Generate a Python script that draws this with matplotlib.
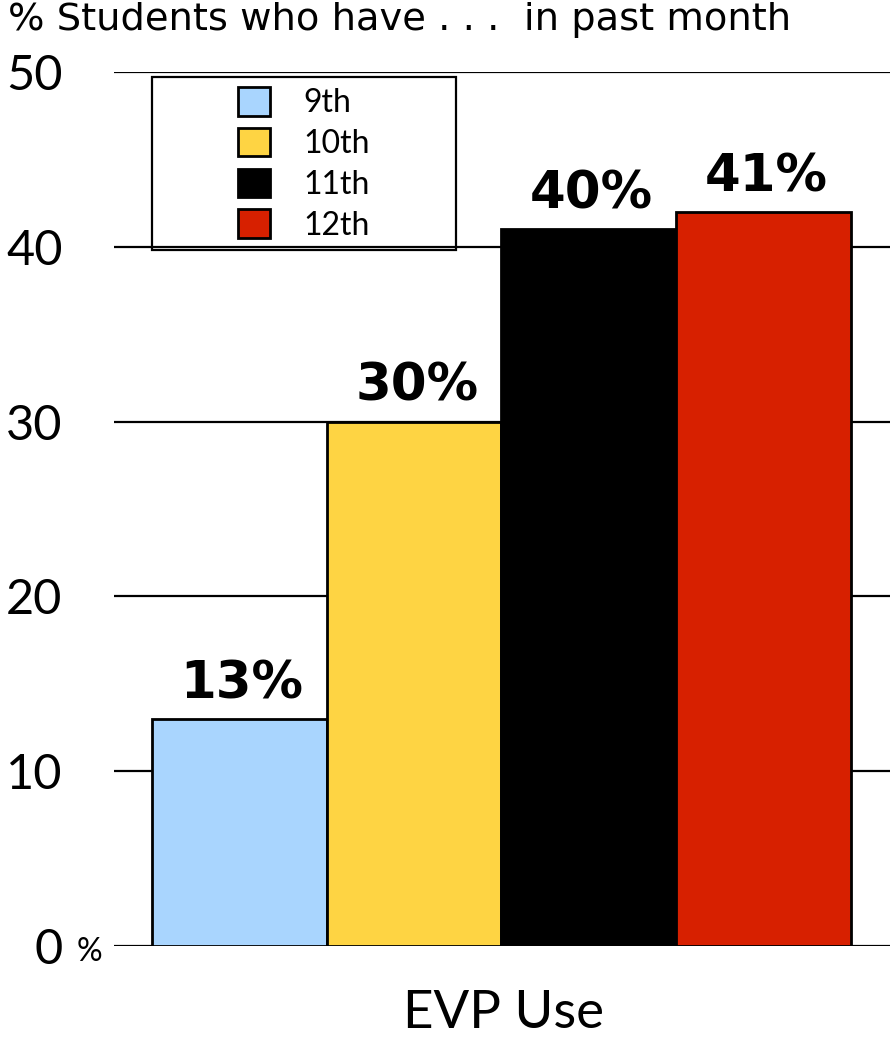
import matplotlib
matplotlib.use("Agg")
import matplotlib.pyplot as plt
from matplotlib.patches import Rectangle
import matplotlib.transforms as mtransforms

# ---- data ----
grades = ["9th", "10th", "11th", "12th"]
values = [13, 30, 41, 42]
value_labels = ["13%", "30%", "40%", "41%"]
colors = ["#A9D5FE", "#FED443", "#000000", "#D72000"]
yticks = [0, 10, 20, 30, 40, 50]
ytick_labels = ["0", "10", "20", "30", "40", "50"]
category = "EVP Use"
title = "% Students who have . . .  in past month"

fig = plt.figure(figsize=(8.94, 10.44), dpi=100)
ax = fig.add_axes([114/894, 98/1044, 776/894, 874/1044])

x = list(range(len(grades)))
bars = ax.bar(x, values, width=1.0, color=colors, edgecolor="black",
              linewidth=2.0, zorder=3)

for xi, v, lab in zip(x, values, value_labels):
    ax.annotate(lab, (xi, v), xytext=(2, 7), textcoords="offset points",
                ha="center", va="bottom", fontsize=37, fontweight="bold",
                family="DejaVu Sans", zorder=4)

ax.set_xlim(-0.5 - 0.217, 3.5 + 0.223)
ax.set_ylim(0, 50)
ax.set_yticks(yticks)
ax.set_yticklabels(ytick_labels, family="Lato", fontsize=35)
ax.tick_params(axis="y", length=0, pad=37)
ax.set_xticks([])
for s in ax.spines.values():
    s.set_visible(False)
ax.yaxis.grid(True, color="black", linewidth=1.6, zorder=0)
ax.set_axisbelow(True)

# small % next to 0
trans = mtransforms.blended_transform_factory(fig.transFigure, ax.transData)
fig.text(89/894, -0.35, "%", transform=trans, ha="center", va="center",
         fontsize=23, family="Lato")

# x category label
ax.text(0.502, -0.077, category, transform=ax.transAxes, ha="center", va="center",
        fontsize=38, family="Lato")

# title
fig.text(8/894, 1 - 20/1044, title, ha="left", va="center",
         fontsize=27.6, family="DejaVu Sans")

# legend
handles = [Rectangle((0, 0), 1, 1, facecolor=c, edgecolor="black", linewidth=2.0)
           for c in colors]
leg = ax.legend(handles, grades, loc="center",
                bbox_to_anchor=(0.245, 0.895), frameon=False,
                prop={"family": "Lato", "size": 23},
                handlelength=1.0, handleheight=1.0, labelspacing=0.3,
                handletextpad=1.05, borderpad=0.2)
ax.add_patch(Rectangle((0.049, 0.7963), 0.3917, 0.198, transform=ax.transAxes,
                       fill=False, edgecolor="black", linewidth=1.6, zorder=5,
                       clip_on=False))

fig.savefig("out.png", dpi=100)
